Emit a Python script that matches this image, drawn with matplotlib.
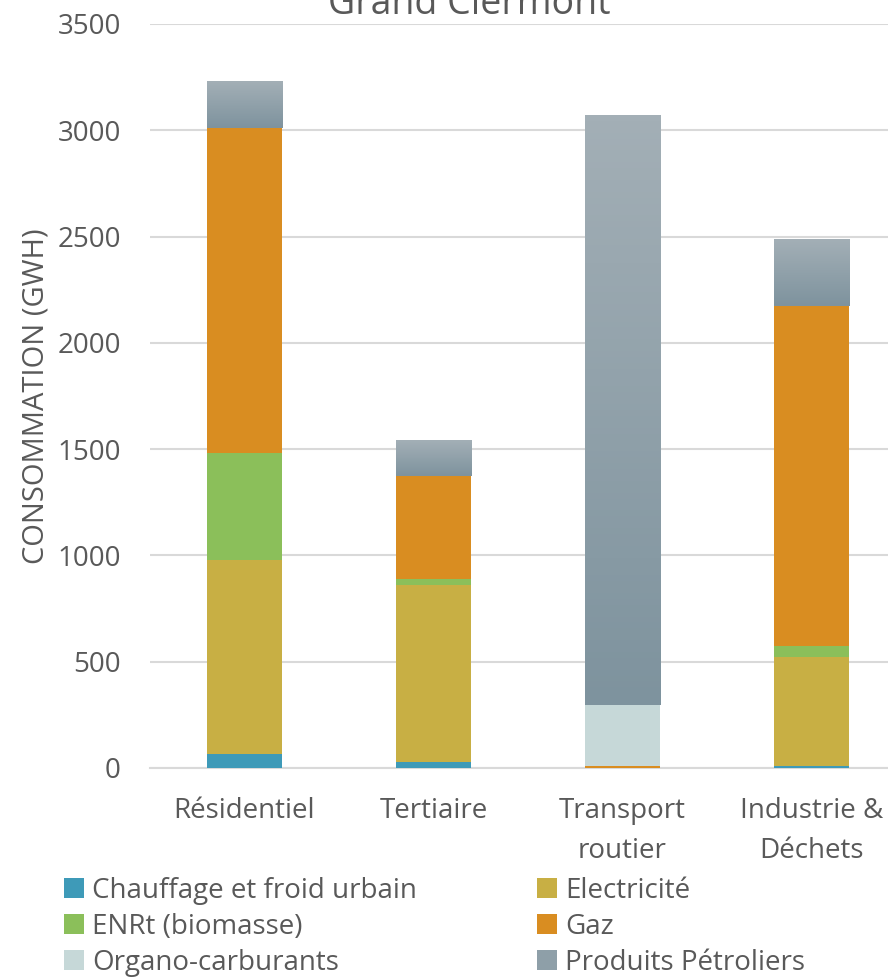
import numpy as np
import matplotlib
matplotlib.use("Agg")
import matplotlib.pyplot as plt
from matplotlib.patches import Patch

plt.rcParams['font.family'] = ['Open Sans', 'DejaVu Sans']

# data (GWh)
secteurs = ['Résidentiel', 'Tertiaire', 'Transport\nroutier', 'Industrie &\nDéchets']
chauffage = [65, 28, 0, 10]
electricite = [913, 833, 2, 512]
enrt = [504, 28, 0, 52]
gaz = [1528, 484, 8, 1599]
organo = [0, 0, 286, 0]
petrole = [217, 165, 2771, 315]

series = [
    ('Chauffage et froid urbain', chauffage, '#3E9AB8'),
    ('Electricité', electricite, '#C8AF44'),
    ('ENRt (biomasse)', enrt, '#8BBF5A'),
    ('Gaz', gaz, '#D98D21'),
    ('Organo-carburants', organo, '#C6D8D8'),
    ('Produits Pétroliers', petrole, '#8E9FA8'),
]

txt = '#595959'
fs = 20
fig = plt.figure(figsize=(8.88, 9.77), dpi=100)
ax = fig.add_axes([150/888, 1 - 768/977, 756/888, 744/977])

x = np.arange(len(secteurs))
bottom = np.zeros(len(secteurs))
for name, vals, col in series:
    bars = ax.bar(x, vals, 0.40, bottom=bottom, color=col, zorder=3)
    if name == 'Produits Pétroliers':
        # vertical gradient like the excel fill
        grad = np.linspace(0, 1, 100).reshape(-1, 1)
        cmap = matplotlib.colors.LinearSegmentedColormap.from_list('pp', ['#7E939E', '#A3AFB6'])
        for b in bars:
            bx, by, bw, bh = b.get_x(), b.get_y(), b.get_width(), b.get_height()
            b.set_facecolor('none')
            ax.imshow(grad, cmap=cmap, aspect='auto', origin='lower',
                      extent=(bx, bx + bw, by, by + bh), zorder=3)
    bottom += np.array(vals)

ax.set_xlim(-0.5, 3.5)
ax.set_ylim(0, 3500)
ax.set_yticks(range(0, 3501, 500))
ax.set_xticks(x)
ax.set_xticklabels(secteurs, fontsize=fs, color=txt, linespacing=1.55)
ax.tick_params(axis='y', labelsize=fs, labelcolor=txt, length=0, pad=21)
ax.tick_params(axis='x', length=0, pad=21)
ax.yaxis.grid(True, color='#D9D9D9', lw=1.5, zorder=0)
for s in ['top', 'right', 'left']:
    ax.spines[s].set_visible(False)
ax.spines['bottom'].set_color('#D9D9D9')
ax.spines['bottom'].set_linewidth(1.5)
ax.set_ylabel('CONSOMMATION (GWH)', fontsize=21, color=txt, labelpad=5)

fig.text(469/888, 1 - 4/977, 'Grand Clermont', ha='center', va='center',
         fontsize=27, color=txt)

handles = [Patch(facecolor=c, label=n) for n, v, c in series]
order = [0, 2, 4, 1, 3, 5]
fig.legend(handles=[handles[i] for i in order], ncol=2, loc='upper left',
           bbox_to_anchor=(64/888, 1 - 877/977),
           frameon=False, fontsize=fs, labelcolor=txt, handlelength=0.72, handleheight=0.72,
           handletextpad=0.3, columnspacing=4.3, labelspacing=0.28, borderaxespad=0, borderpad=0)

fig.savefig('out.png', dpi=100)
